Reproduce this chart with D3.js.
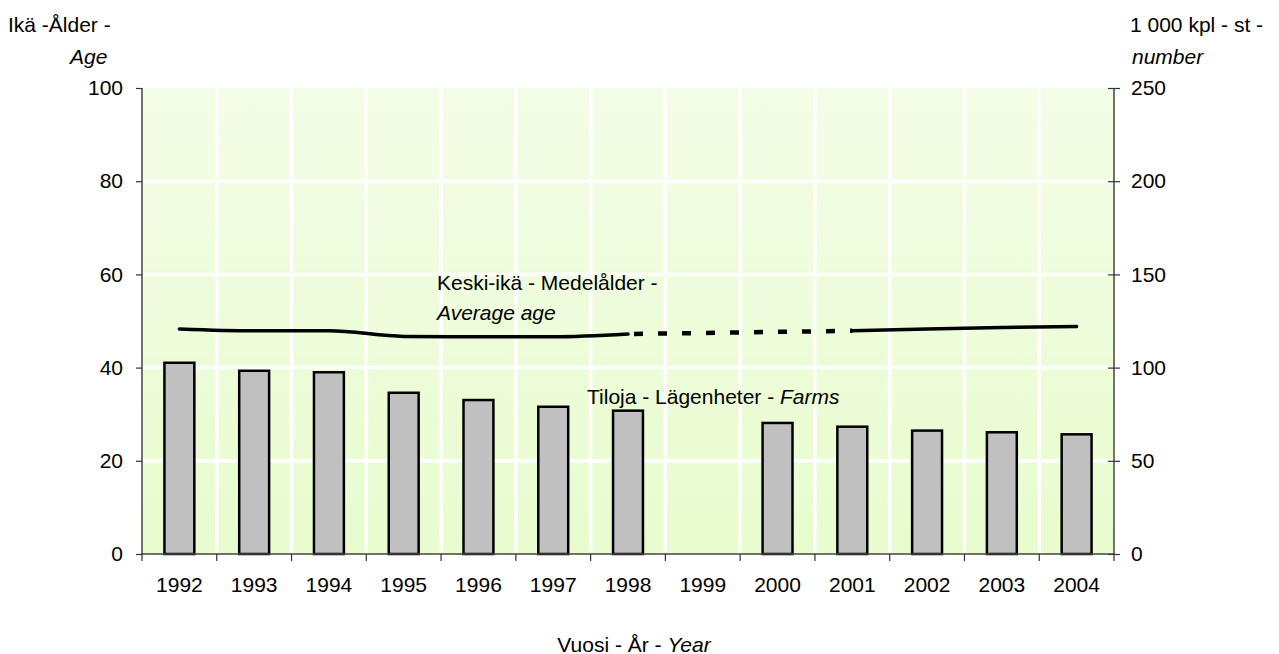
<!DOCTYPE html>
<html>
<head>
<meta charset="utf-8">
<script src="https://cdn.jsdelivr.net/npm/d3@7"></script>
<style>
  html, body { margin: 0; padding: 0; background: #fff; }
  svg { display: block; font-family: "Liberation Sans", Arial, sans-serif; }
</style>
</head>
<body>
<svg id="chart" width="1279" height="654"></svg>
<script>
// Years on the category axis
const years = ["1992","1993","1994","1995","1996","1997","1998","1999","2000","2001","2002","2003","2004"];
// Number of farms, thousands (right axis); no figure for 1999
const farms = [102.6, 98.3, 97.5, 86.5, 82.6, 79.0, 76.9, null, 70.3, 68.3, 66.2, 65.3, 64.2];
// Average age of farmers (left axis); gap over 1999–2000
const avgAge = [48.3, 47.9, 47.9, 46.7, 46.6, 46.6, 47.2, null, null, 47.9, 48.3, 48.6, 48.8];
// Dashed bridge across the gap (1998 -> 2001)
const bridgeYears = ["1998", "2001"];
const bridgeAge = [47.2, 47.9];
// Axis ticks
const ageTicks = [0, 20, 40, 60, 80, 100];
const farmTicks = [0, 50, 100, 150, 200, 250];

const svg = d3.select("#chart");
const pL = 142, pR = 1114, pT = 88, pB = 554;

const x = d3.scaleBand().domain(years).range([pL, pR]);
const yAge = d3.scaleLinear().domain([0, 100]).range([pB, pT]);
const yFarm = d3.scaleLinear().domain([0, 250]).range([pB, pT]);

// plot background
const defs = svg.append("defs");
const grad = defs.append("linearGradient").attr("id", "bg").attr("x1", 0).attr("y1", 0).attr("x2", 0).attr("y2", 1);
grad.append("stop").attr("offset", "0%").attr("stop-color", "#f4fde7");
grad.append("stop").attr("offset", "100%").attr("stop-color", "#e8fcce");
svg.append("rect").attr("x", pL).attr("y", pT).attr("width", pR - pL).attr("height", pB - pT)
  .attr("fill", "url(#bg)");

// white gridlines
svg.append("g").selectAll("line").data(ageTicks.filter(d => d > 0 && d < 100)).join("line")
  .attr("x1", pL).attr("x2", pR).attr("y1", d => yAge(d)).attr("y2", d => yAge(d))
  .attr("stroke", "#fff").attr("stroke-width", 3.5);
svg.append("g").selectAll("line").data(years.slice(1)).join("line")
  .attr("x1", d => x(d)).attr("x2", d => x(d)).attr("y1", pT).attr("y2", pB)
  .attr("stroke", "#fff").attr("stroke-width", 3.5);

// bars
const bw = x.bandwidth() * 0.4;
svg.append("g").selectAll("rect").data(years.map((y, i) => ({ y, v: farms[i] })).filter(d => d.v != null)).join("rect")
  .attr("x", d => x(d.y) + x.bandwidth() / 2 - bw / 2)
  .attr("y", d => yFarm(d.v))
  .attr("width", bw)
  .attr("height", d => yFarm(0) - yFarm(d.v))
  .attr("fill", "#c0c0c0").attr("stroke", "#000").attr("stroke-width", 2.5);

// average age line
const cx = d => x(d) + x.bandwidth() / 2;
const ageLine = d3.line().defined(d => d.v != null).x(d => cx(d.y)).y(d => yAge(d.v)).curve(d3.curveMonotoneX);
svg.append("path").datum(years.map((y, i) => ({ y, v: avgAge[i] })))
  .attr("d", ageLine).attr("fill", "none").attr("stroke", "#000").attr("stroke-width", 3.5)
  .attr("stroke-linecap", "round");
svg.append("path").datum(bridgeYears.map((y, i) => ({ y, v: bridgeAge[i] })))
  .attr("d", d3.line().x(d => cx(d.y)).y(d => yAge(d.v)))
  .attr("fill", "none").attr("stroke", "#000").attr("stroke-width", 4.5)
  .attr("stroke-dasharray", "9 15").attr("stroke-dashoffset", -6);

// axes
const fs = "21px";
const axL = svg.append("g").attr("transform", `translate(${pL},0)`)
  .call(d3.axisLeft(yAge).tickValues(ageTicks).tickSize(6).tickPadding(13));
const axR = svg.append("g").attr("transform", `translate(${pR},0)`)
  .call(d3.axisRight(yFarm).tickValues(farmTicks).tickSize(6).tickPadding(11));
axR.selectAll(".tick line").attr("x1", -6);
const axB = svg.append("g").attr("transform", `translate(0,${pB})`)
  .call(d3.axisBottom(x).tickSize(0).tickPadding(23));
svg.append("g").selectAll("line").data(years.concat(["end"])).join("line")
  .attr("x1", (d, i) => pL + i * x.step()).attr("x2", (d, i) => pL + i * x.step())
  .attr("y1", pB).attr("y2", pB + 7).attr("stroke", "#333").attr("stroke-width", 1.2);
[axL, axR, axB].forEach(a => {
  a.selectAll("text").style("font-size", fs).attr("fill", "#000");
  a.selectAll("line").attr("stroke", "#333").attr("stroke-width", 1.2);
  a.select(".domain").attr("stroke", "#444").attr("stroke-width", 1.5);
  a.attr("font-family", null);
});
axB.select(".domain").attr("d", `M${pL},0H${pR}`);
axL.select(".domain").attr("d", `M0,${pT}V${pB}`);
axR.select(".domain").attr("d", `M0,${pT}V${pB}`);

// titles and annotations
function label(x0, y0, parts, anchor) {
  const t = svg.append("text").attr("x", x0).attr("y", y0).attr("text-anchor", anchor || "start")
    .attr("dominant-baseline", "central").style("font-size", fs).attr("fill", "#000");
  parts.forEach(p => t.append("tspan").text(p[0]).style("font-style", p[1] ? "italic" : "normal"));
}
label(8, 24, [["Ikä -Ålder -"]]);
label(70, 56, [["Age", true]]);
label(1130, 24, [["1 000 kpl - st -"]]);
label(1132, 56, [["number", true]]);
label(437, 282, [["Keski-ikä - Medelålder -"]]);
label(437, 312, [["Average age", true]]);
label(587, 396, [["Tiloja - Lägenheter - "], ["Farms", true]]);
label(634, 644, [["Vuosi - År - "], ["Year", true]], "middle");
</script>
</body>
</html>
